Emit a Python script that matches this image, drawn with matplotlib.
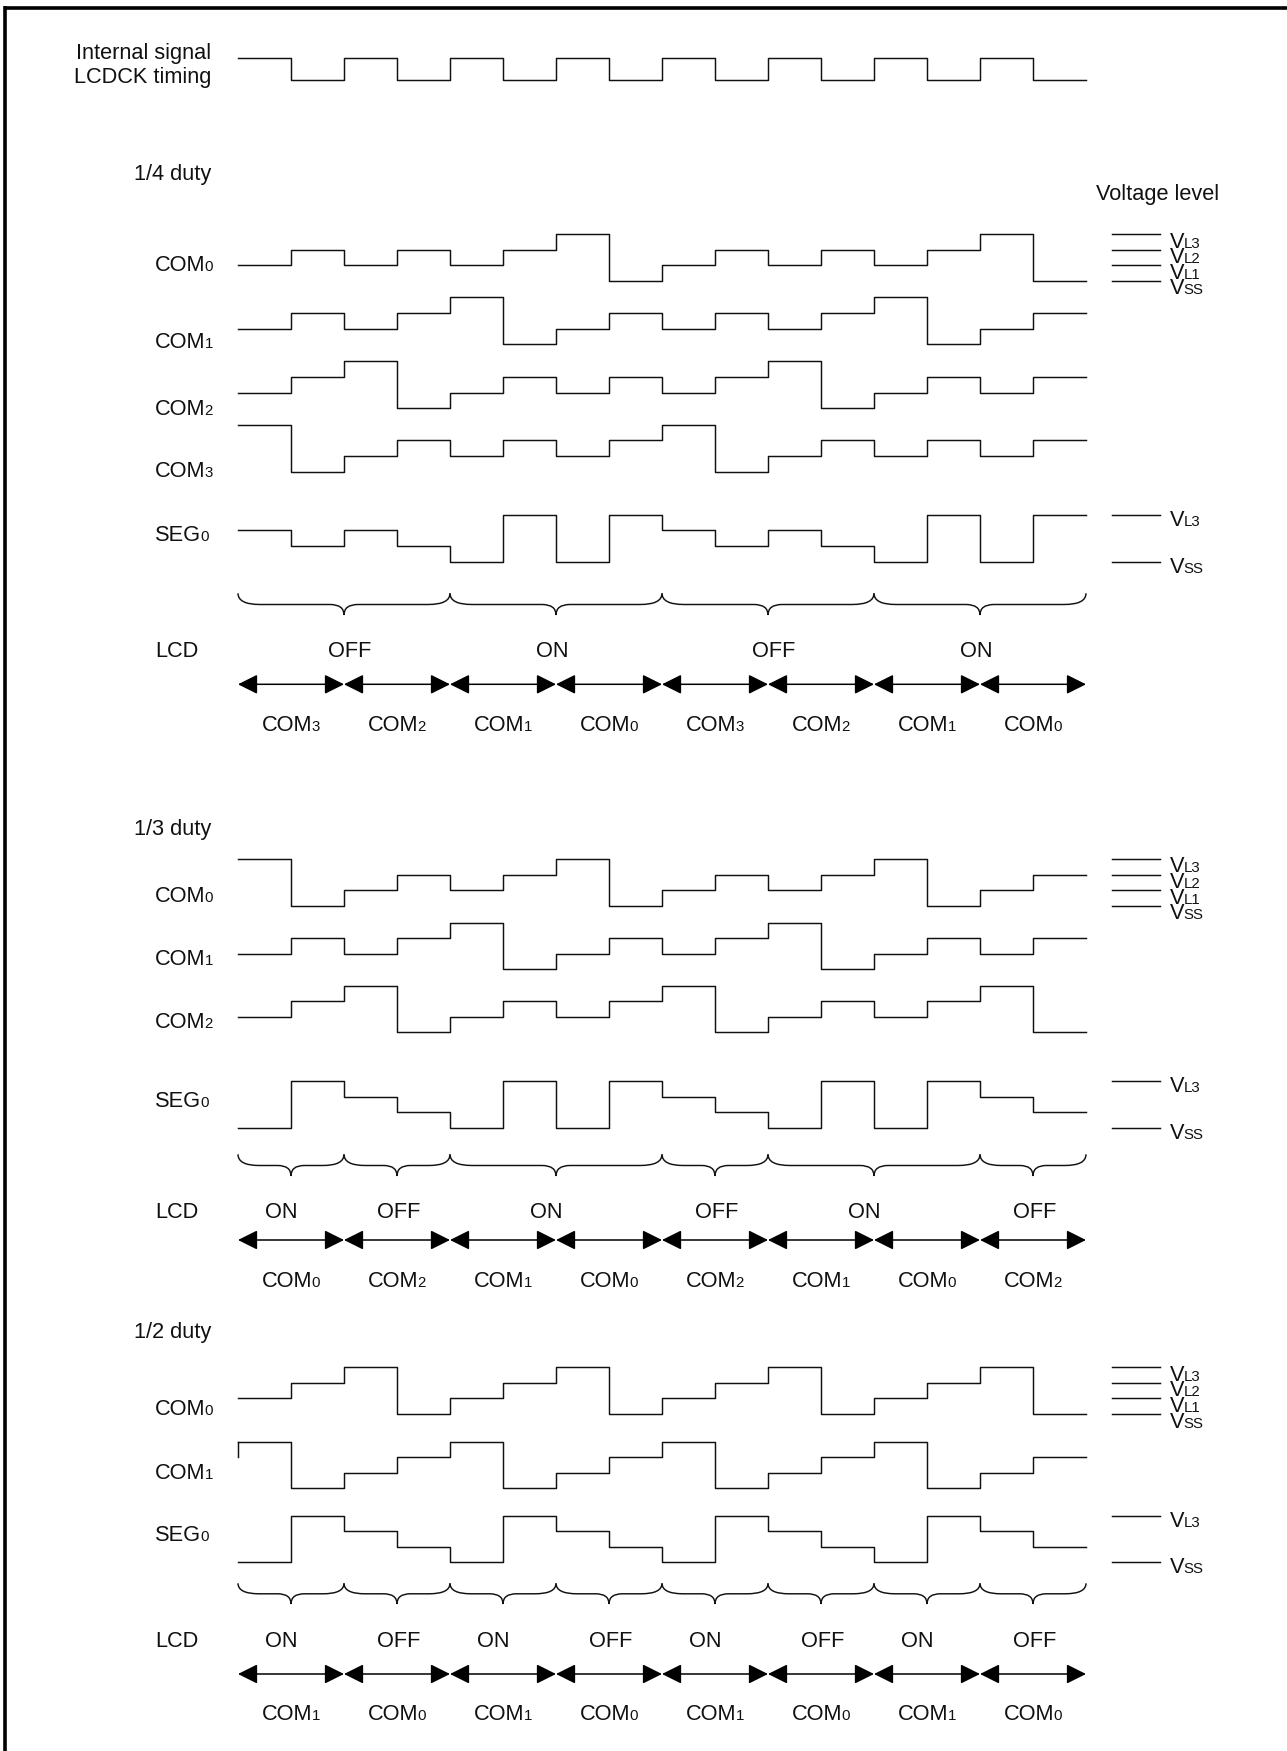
# LCD common / segment drive waveforms (1/4, 1/3, 1/2 duty)
import numpy as np
import matplotlib.pyplot as plt
from matplotlib.path import Path
from matplotlib.patches import PathPatch

plt.rcParams['font.family'] = ['Liberation Sans', 'DejaVu Sans']

# ---- data: drive level in each LCDCK slot (0 = VSS, 1 = VL1, 2 = VL2, 3 = VL3)
lcdck = [1, 0, 1, 0, 1, 0, 1, 0, 1, 0, 1, 0, 1, 0, 1, 0]

# 1/4 duty
q_com0 = [1, 2, 1, 2, 1, 2, 3, 0, 1, 2, 1, 2, 1, 2, 3, 0]
q_com1 = [1, 2, 1, 2, 3, 0, 1, 2, 1, 2, 1, 2, 3, 0, 1, 2]
q_com2 = [1, 2, 3, 0, 1, 2, 1, 2, 1, 2, 3, 0, 1, 2, 1, 2]
q_com3 = [3, 0, 1, 2, 1, 2, 1, 2, 3, 0, 1, 2, 1, 2, 1, 2]
q_seg0 = [2, 1, 2, 1, 0, 3, 0, 3, 2, 1, 2, 1, 0, 3, 0, 3]
q_lcd = ['OFF', 'ON', 'OFF', 'ON']
q_span = [4, 4, 4, 4]  # slots per brace
q_sel = ['3', '2', '1', '0', '3', '2', '1', '0']

# 1/3 duty
t_com0 = [3, 0, 1, 2, 1, 2, 3, 0, 1, 2, 1, 2, 3, 0, 1, 2]
t_com1 = [1, 2, 1, 2, 3, 0, 1, 2, 1, 2, 3, 0, 1, 2, 1, 2]
t_com2 = [1, 2, 3, 0, 1, 2, 1, 2, 3, 0, 1, 2, 1, 2, 3, 0]
t_seg0 = [0, 3, 2, 1, 0, 3, 0, 3, 2, 1, 0, 3, 0, 3, 2, 1]
t_lcd = ['ON', 'OFF', 'ON', 'OFF', 'ON', 'OFF']
t_span = [2, 2, 4, 2, 4, 2]
t_sel = ['0', '2', '1', '0', '2', '1', '0', '2']

# 1/2 duty
h_com0 = [1, 2, 3, 0, 1, 2, 3, 0, 1, 2, 3, 0, 1, 2, 3, 0]
h_com1 = [3, 0, 1, 2, 3, 0, 1, 2, 3, 0, 1, 2, 3, 0, 1, 2]
h_com1_start = 2
h_seg0 = [0, 3, 2, 1, 0, 3, 2, 1, 0, 3, 2, 1, 0, 3, 2, 1]
h_lcd = ['ON', 'OFF', 'ON', 'OFF', 'ON', 'OFF', 'ON', 'OFF']
h_span = [2, 2, 2, 2, 2, 2, 2, 2]
h_sel = ['1', '0', '1', '0', '1', '0', '1', '0']

# ---- layout (pixel units)
W, H = 1287, 1751
X0 = 238.0      # first slot edge
SLOT = 53.0     # slot width
STEP = 15.6     # one voltage level
FS = 15.7
SUB = 0.69
LW = 1.05
INK = '#111111'

fig = plt.figure(figsize=(W / 100, H / 100), dpi=100)
ax = fig.add_axes([0, 0, 1, 1])
ax.set_xlim(0, W)
ax.set_ylim(H, 0)
ax.axis('off')
renderer = fig.canvas.get_renderer()


def sub_text(x, y, main, sub, ha='left'):
    t1 = ax.text(0, y, main, fontsize=FS, va='baseline', ha='left', color=INK)
    t2 = ax.text(0, y, sub, fontsize=FS * SUB, va='baseline', ha='left', color=INK)
    w1 = t1.get_window_extent(renderer).width - 0.8
    w2 = t2.get_window_extent(renderer).width
    x0 = x if ha == 'left' else x - (w1 + w2) / 2
    t1.set_x(x0)
    t2.set_x(x0 + w1)


def wave(levels, vss, start=None):
    xs = X0 + SLOT * np.arange(len(levels) + 1)
    ys = vss - STEP * np.array(list(levels) + [levels[-1]])
    ax.step(xs, ys, where='post', color=INK, lw=LW)
    if start is not None:
        ax.plot([X0, X0], [vss - STEP * start, ys[0]], color=INK, lw=LW)


def brace(xa, xb, y_top, y_mid, y_tip):
    xm = (xa + xb) / 2
    h = xm - xa
    ce = min(22, 0.4 * h)
    ct = min(14, 0.25 * h)
    verts = [(xa, y_top), (xa, y_mid), (xa + ce, y_mid), (xm - ct, y_mid),
             (xm, y_mid), (xm, y_tip), (xm, y_mid), (xm + ct, y_mid),
             (xb - ce, y_mid), (xb, y_mid), (xb, y_top)]
    codes = [Path.MOVETO, Path.CURVE3, Path.CURVE3, Path.LINETO,
             Path.CURVE3, Path.CURVE3, Path.CURVE3, Path.CURVE3,
             Path.LINETO, Path.CURVE3, Path.CURVE3]
    ax.add_patch(PathPatch(Path(verts, codes), fc='none', ec=INK, lw=LW))


def level_stack(vss, names):
    # short reference lines with stacked V labels
    for k, nm in enumerate(names):
        y = vss - STEP * k
        ax.plot([1112, 1160], [y, y], color=INK, lw=LW)
        sub_text(1170, y + 13.5, 'V', nm)


def level_pair(vss):
    for k, nm in [(0, 'SS'), (3, 'L3')]:
        y = vss - STEP * k
        ax.plot([1112, 1160], [y, y], color=INK, lw=LW)
        sub_text(1170, y + 11, 'V', nm)


# frame (top and left edges only)
ax.plot([4, W], [8, 8], color='black', lw=2.6, solid_capstyle='butt')
ax.plot([5.3, 5.3], [6.5, H], color='black', lw=2.6, solid_capstyle='butt')

# internal clock
ax.text(211.5, 59.3, 'Internal signal', fontsize=FS, ha='right', va='baseline', color=INK)
ax.text(211.5, 83.3, 'LCDCK timing', fontsize=FS, ha='right', va='baseline', color=INK)
clk_low, clk_amp = 80.0, 21.7
xs = X0 + SLOT * np.arange(len(lcdck) + 1)
ax.step(xs, clk_low - clk_amp * np.array(lcdck + [lcdck[-1]]), where='post', color=INK, lw=LW)

ax.text(1096, 200, 'Voltage level', fontsize=FS, ha='left', va='baseline', color=INK)

sections = [
    dict(title='1/4 duty', title_y=180,
         rows=[('COM', '0', q_com0, 281.0, 271, None), ('COM', '1', q_com1, 344.3, 348, None),
               ('COM', '2', q_com2, 408.3, 415, None), ('COM', '3', q_com3, 471.7, 477, None),
               ('SEG', '0', q_seg0, 561.7, 541, None)],
         lcd=q_lcd, span=q_span, sel=q_sel, brace=(593.3, 604.5, 615.0),
         lcd_y=657.3, lcd_dx={'ON': -4, 'OFF': 6}, arrow_y=684.3, sel_y=730.7),
    dict(title='1/3 duty', title_y=835,
         rows=[('COM', '0', t_com0, 905.7, 901.7, None), ('COM', '1', t_com1, 969.3, 965, None),
               ('COM', '2', t_com2, 1032.3, 1028, None), ('SEG', '0', t_seg0, 1128.0, 1107, None)],
         lcd=t_lcd, span=t_span, sel=t_sel, brace=(1154.3, 1165.5, 1176.0),
         lcd_y=1218, lcd_dx={'ON': -10, 'OFF': 2}, arrow_y=1240, sel_y=1286.7),
    dict(title='1/2 duty', title_y=1338,
         rows=[('COM', '0', h_com0, 1414.0, 1415, None), ('COM', '1', h_com1, 1488.3, 1479, h_com1_start),
               ('SEG', '0', h_seg0, 1562.3, 1540.7, None)],
         lcd=h_lcd, span=h_span, sel=h_sel, brace=(1583.3, 1593.8, 1604.0),
         lcd_y=1646.7, lcd_dx={'ON': -10, 'OFF': 2}, arrow_y=1674, sel_y=1720),
]

for sec in sections:
    ax.text(211.5, sec['title_y'], sec['title'], fontsize=FS, ha='right', va='baseline', color=INK)
    for name, sub, levels, vss, label_y, start in sec['rows']:
        sub_text(155, label_y, name, sub)
        wave(levels, vss, start)
    # reference levels on the right
    level_stack(sec['rows'][0][3], ['SS', 'L1', 'L2', 'L3'])
    level_pair(sec['rows'][-1][3])

    # braces + ON/OFF
    yt, ym, yp = sec['brace']
    ax.text(155, sec['lcd_y'], 'LCD', fontsize=FS, ha='left', va='baseline', color=INK)
    edge = 0
    for state, n in zip(sec['lcd'], sec['span']):
        xa = X0 + SLOT * edge
        xb = X0 + SLOT * (edge + n)
        brace(xa, xb, yt, ym, yp)
        ax.text((xa + xb) / 2 + sec['lcd_dx'][state], sec['lcd_y'], state, fontsize=FS,
                ha='center', va='baseline', color=INK)
        edge += n

    # selected common per two slots
    for i, s in enumerate(sec['sel']):
        xa = X0 + SLOT * 2 * i
        xb = xa + 2 * SLOT
        ax.annotate('', xy=(xb, sec['arrow_y']), xytext=(xa, sec['arrow_y']),
                    arrowprops=dict(arrowstyle='<|-|>,head_length=12,head_width=6',
                                    mutation_scale=1, color='black', lw=1.1,
                                    shrinkA=0, shrinkB=0))
        sub_text((xa + xb) / 2, sec['sel_y'], 'COM', s, ha='center')

fig.savefig('out.png', dpi=100)
